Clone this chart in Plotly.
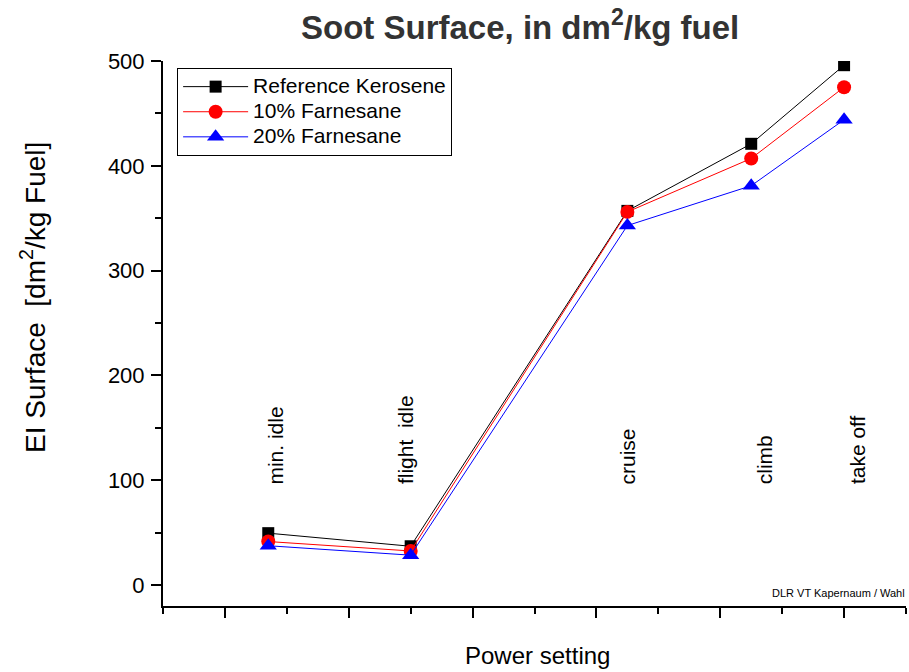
import plotly.graph_objects as go

# Data
settings = ["min. idle", "flight  idle", "cruise", "climb", "take off"]
x_pos = [1.7, 4.0, 7.5, 9.5, 11.0]
label_x = [1.81, 3.91, 7.51, 9.71, 11.21]
ref_kerosene = [49.5, 37, 357, 421, 496]
farnesane_10 = [41.5, 32.5, 356, 407, 475]
farnesane_20 = [37.5, 28.5, 343, 381, 444]
series_names = ["Reference Kerosene", "10% Farnesane", "20% Farnesane"]
y_ticks = [0, 100, 200, 300, 400, 500]

FONT = "Liberation Sans, Arial, sans-serif"


def leg(name):
    return '<span style="font-size:21px">' + name + '</span>'


fig = go.Figure()
fig.add_trace(go.Scatter(x=x_pos, y=ref_kerosene, name=leg(series_names[0]), mode="lines+markers",
                         line=dict(color="black", width=1),
                         marker=dict(symbol="square", size=12, color="black")))
fig.add_trace(go.Scatter(x=x_pos, y=farnesane_10, name=leg(series_names[1]), mode="lines+markers",
                         line=dict(color="red", width=1),
                         marker=dict(symbol="circle", size=14, color="red")))
fig.add_trace(go.Scatter(x=x_pos, y=farnesane_20, name=leg(series_names[2]), mode="lines+markers",
                         line=dict(color="blue", width=1),
                         marker=dict(symbol="triangle-up", size=15, color="blue")))

for lx, s in zip(label_x, settings):
    fig.add_annotation(x=lx, y=94, xref="x", yref="y", text=s, textangle=-90,
                       showarrow=False, yanchor="bottom", xanchor="center",
                       font=dict(family=FONT, size=21, color="black"))

fig.add_annotation(x=1.0, y=-7.5, xref="paper", yref="y", text="DLR VT Kapernaum / Wahl",
                   showarrow=False, xanchor="right", yanchor="middle", xshift=1,
                   font=dict(family=FONT, size=11, color="black"))

# titles
fig.add_annotation(x=0.4805, y=1.066, xref="paper", yref="paper",
                   text="<b>Soot Surface, in dm<sup>2</sup>/kg fuel</b>", showarrow=False,
                   xanchor="center", yanchor="middle",
                   font=dict(family=FONT, size=33, color="#333333"))
fig.add_annotation(x=0.5047, y=-0.09, xref="paper", yref="paper", text="Power setting",
                   showarrow=False, xanchor="center", yanchor="middle",
                   font=dict(family=FONT, size=24, color="black"))
fig.add_annotation(x=-0.175, y=0.567, xref="paper", yref="paper",
                   text="EI Surface  [dm<sup>2</sup>/kg Fuel]", textangle=-90,
                   showarrow=False, xanchor="center", yanchor="middle",
                   font=dict(family=FONT, size=28, color="black"))

fig.update_layout(
    width=909, height=672,
    margin=dict(l=163, r=3, t=61, b=66),
    paper_bgcolor="white", plot_bgcolor="white",
    showlegend=True,
    legend=dict(x=0.019, y=0.987, xanchor="left", yanchor="top",
                bordercolor="black", borderwidth=1, bgcolor="white",
                font=dict(family=FONT, size=17, color="black"),
                itemwidth=65, tracegroupgap=0),
    xaxis=dict(range=[0, 12], showgrid=False, zeroline=False, showline=True,
               linecolor="black", linewidth=2, ticks="outside", ticklen=10, tickwidth=2,
               tickcolor="black", tickmode="linear", tick0=1, dtick=2, showticklabels=False,
               minor=dict(ticks="outside", ticklen=6, tickwidth=2, tickcolor="black",
                          tickmode="linear", tick0=0, dtick=2)),
    yaxis=dict(range=[-20, 500], showgrid=False, zeroline=False, showline=True,
               linecolor="black", linewidth=2, ticks="outside", ticklen=10, tickwidth=2,
               tickcolor="black", tickmode="array", tickvals=y_ticks,
               ticktext=[str(v) for v in y_ticks], ticklabelstandoff=2,
               tickfont=dict(family=FONT, size=22, color="black"),
               minor=dict(ticks="outside", ticklen=6, tickwidth=2, tickcolor="black",
                          tickmode="linear", tick0=0, dtick=50)),
)

fig.write_html("out.html")
